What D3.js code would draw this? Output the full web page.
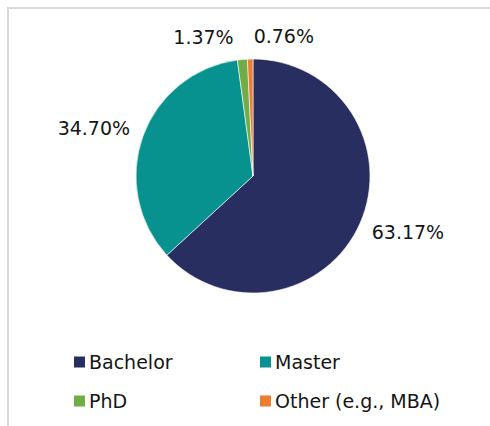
<!DOCTYPE html>
<html lang="en">
	<head>
		<meta charset="utf-8">
		<title>D3: pie chart of degree levels</title>
		<script src="https://d3js.org/d3.v7.min.js"></script>
		<style type="text/css">
			body { margin: 0; background: #fff; }
			text { font-family: "DejaVu Sans", sans-serif; fill: #151515; }
		</style>
	</head>
	<body>
		<script type="text/javascript">
			// Data
			var categories = ["Bachelor", "Master", "PhD", "Other (e.g., MBA)"];
			var shares = [63.17, 34.70, 1.37, 0.76];
			var labels = ["63.17%", "34.70%", "1.37%", "0.76%"];
			var colors = ["#282e60", "#07918f", "#70ad47", "#ed7d31"];

			var width = 490;
			var height = 426;
			var cx = 253, cy = 176, radius = 117;
			var labelGap = 16;

			var svg = d3.select("body")
				.append("svg")
				.attr("width", width)
				.attr("height", height);

			// chart area border (only top/left edges visible in the crop)
			svg.append("rect")
				.attr("x", 8)
				.attr("y", 8)
				.attr("width", 600)
				.attr("height", 600)
				.attr("fill", "none")
				.attr("stroke", "#d9d9d9")
				.attr("stroke-width", 2);

			var color = d3.scaleOrdinal()
				.domain(categories)
				.range(colors);

			var pie = d3.pie()
				.sort(null)
				.value(function(d, i) { return shares[i]; });

			var arcs = pie(categories);

			var arc = d3.arc()
				.innerRadius(0)
				.outerRadius(radius);

			var g = svg.append("g")
				.attr("transform", "translate(" + cx + "," + cy + ")");

			g.selectAll("path")
				.data(arcs)
				.enter()
				.append("path")
				.attr("d", arc)
				.attr("fill", function(d) { return color(d.data); })
				.attr("stroke", "#fff")
				.attr("stroke-width", 0.6);

			// outside-end labels
			var texts = g.selectAll("text.pct")
				.data(arcs)
				.enter()
				.append("text")
				.attr("class", "pct")
				.attr("text-anchor", "middle")
				.attr("font-size", "19px")
				.text(function(d, i) { return labels[i]; });

			var capH = 14;
			var pos = [];
			texts.each(function(d) {
				var w = this.getComputedTextLength();
				var a = (d.startAngle + d.endAngle) / 2;
				var dx = Math.sin(a), dy = -Math.cos(a);
				pos.push({
					x: dx * (radius + labelGap) + dx * w / 2,
					y: dy * (radius + labelGap) + dy * capH / 2,
					w: w
				});
			});

			// push apart labels that collide; keep them in slice order
			for (var iter = 0; iter < 50; iter++) {
				for (var i = 0; i < pos.length; i++) {
					for (var j = i + 1; j < pos.length; j++) {
						var need = (pos[i].w + pos[j].w) / 2 + 20;
						if (Math.abs(pos[i].y - pos[j].y) < capH + 4 && Math.abs(pos[i].x - pos[j].x) < need) {
							var mid = (pos[i].x + pos[j].x) / 2;
							pos[i].x = mid - need / 2;
							pos[j].x = mid + need / 2;
						}
					}
				}
			}

			texts
				.attr("x", function(d, i) { return pos[i].x; })
				.attr("y", function(d, i) { return pos[i].y + capH / 2; });

			// legend
			var legend = svg.append("g")
				.selectAll("g")
				.data(categories)
				.enter()
				.append("g")
				.attr("transform", function(d, i) {
					return "translate(" + (74 + (i % 2) * 186) + "," + (362 + Math.floor(i / 2) * 39) + ")";
				});

			legend.append("rect")
				.attr("x", 0)
				.attr("y", -5.5)
				.attr("width", 11)
				.attr("height", 11)
				.attr("fill", function(d) { return color(d); });

			legend.append("text")
				.attr("x", 15)
				.attr("y", 7)
				.attr("font-size", "19px")
				.text(function(d) { return d; });
		</script>
	</body>
</html>
